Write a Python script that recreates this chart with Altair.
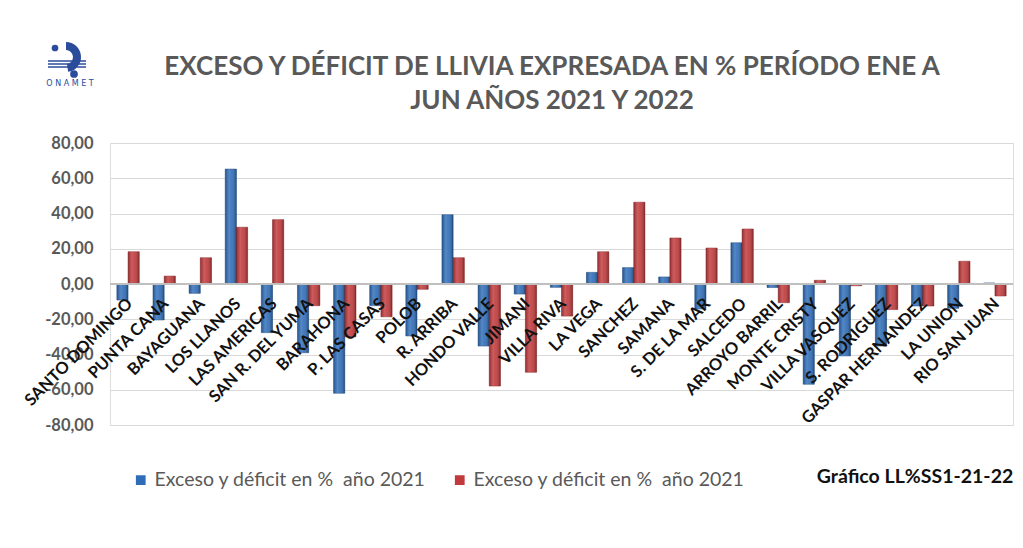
import altair as alt
import pandas as pd

estaciones = ["SANTO DOMINGO", "PUNTA CANA", "BAYAGUANA", "LOS LLANOS", "LAS AMERICAS",
              "SAN R. DEL YUMA", "BARAHONA", "P. LAS CASAS", "POLOB", "R. ARRIBA",
              "HONDO VALLE", "JIMANI", "VILLA RIVA", "LA VEGA", "SANCHEZ", "SAMANA",
              "S. DE LA MAR", "SALCEDO", "ARROYO BARRIL", "MONTE CRISTY", "VILLA VASQUEZ",
              "S. RODRIGUEZ", "GASPAR HERNANDEZ", "LA UNION", "RIO SAN JUAN"]
anio_2021 = [-9.1, -20.4, -5.3, 65.2, -27.6, -39.0, -62.0, -12.3, -29.5, 39.3,
             -35.2, -5.7, -1.9, 6.6, 9.3, 4.0, -14.2, 23.4, -2.0, -56.9,
             -40.8, -35.2, -12.5, -13.8, 0.6]
anio_2022 = [18.3, 4.5, 14.9, 32.2, 36.5, -12.3, -30.0, -18.6, -3.0, 14.9,
             -57.9, -50.1, -18.2, 18.3, 46.4, 26.1, 20.4, 31.2, -10.6, 2.1,
             -1.0, -14.5, -12.5, 12.9, -6.8]
series = ["s2021", "s2022"]
legend_label = "Exceso y déficit en %\u00a0 año 2021"
y_ticks = [-80, -60, -40, -20, 0, 20, 40, 60, 80]
titulo_1 = "EXCESO Y DÉFICIT DE LLIVIA EXPRESADA EN % PERÍODO ENE A"
titulo_2 = "JUN AÑOS 2021 Y 2022"
nota = "Gráfico LL%SS1-21-22"

rows = []
for e, a, b in zip(estaciones, anio_2021, anio_2022):
    rows.append({"estacion": e, "serie": series[0], "valor": a})
    rows.append({"estacion": e, "serie": series[1], "valor": b})
df = pd.DataFrame(rows)
df_lab = pd.DataFrame({"estacion": estaciones, "valor": [0] * len(estaciones)})
one = pd.DataFrame({"k": [1]})

BLUE = "#2F6DB8"
RED = "#C0393B"
FONT = "Lato"
GRAY_TXT = "#595959"
LOGO = "#2B4C9B"

xenc = alt.X("estacion:N", sort=estaciones, axis=None,
             scale=alt.Scale(paddingInner=0.38, paddingOuter=0.19))
xoff = alt.XOffset("serie:N", sort=series, scale=alt.Scale(paddingInner=0, paddingOuter=0))
yscale = alt.Scale(domain=[-80, 80], nice=False, zero=False)
yaxis = alt.Axis(values=y_ticks, ticks=False, domain=False, grid=True,
                 gridColor="#D9D9D9", gridWidth=1, labelOverlap=False,
                 labelFont=FONT, labelFontSize=16.5, labelFontWeight="bold",
                 labelColor=GRAY_TXT, labelPadding=17,
                 labelExpr="replace(replace(format(datum.value, '.2f'), '.', ','), '\u2212', '-')")
yenc = alt.Y("valor:Q", title=None, scale=yscale, axis=yaxis)

bars = alt.Chart(df).mark_bar(strokeWidth=0.5).encode(
    x=xenc, xOffset=xoff, y=yenc,
    color=alt.Color("serie:N", sort=series,
                    scale=alt.Scale(domain=series, range=[BLUE, RED]),
                    legend=alt.Legend(orient="none", legendX=21, legendY=327,
                                      direction="horizontal", title=None,
                                      symbolType="square", symbolSize=95,
                                      symbolStrokeWidth=0,
                                      labelFont=FONT, labelFontSize=19.5,
                                      labelColor=GRAY_TXT, labelLimit=0,
                                      columnPadding=24, labelOffset=4,
                                      labelExpr="'" + legend_label + "'")),
    stroke=alt.Color("serie:N", sort=series,
                     scale=alt.Scale(domain=series, range=["#1E4A80", "#8A2224"]),
                     legend=None),
)

shade = alt.Chart(df).mark_bar(
    fill=alt.LinearGradient(
        gradient="linear", x1=0, x2=1, y1=0, y2=0,
        stops=[alt.GradientStop(offset=0, color="rgba(0,0,0,0.22)"),
               alt.GradientStop(offset=0.35, color="rgba(255,255,255,0.18)"),
               alt.GradientStop(offset=0.55, color="rgba(255,255,255,0.10)"),
               alt.GradientStop(offset=1, color="rgba(0,0,0,0.30)")])
).encode(x=xenc, xOffset=xoff, y=yenc)

zero = alt.Chart(df_lab).mark_rule(color="#BFBFBF", strokeWidth=1.2).encode(y=yenc)

labels = alt.Chart(df_lab).mark_text(
    angle=315, align="right", baseline="top", font=FONT, fontSize=16.5,
    fontWeight="bold", color="#111111", dx=-11, dy=5.5
).encode(x=alt.X("estacion:N", sort=estaciones), y=yenc, text="estacion:N")


def texto(t, px, py, size, color, weight="bold", font=FONT):
    return alt.Chart(pd.DataFrame({"t": [t]})).mark_text(
        font=font, fontSize=size, fontWeight=weight, color=color, align="center",
        baseline="middle"
    ).encode(x=alt.value(px), y=alt.value(py), text="t:N")


title_1 = texto(titulo_1, 442, -76, 26, GRAY_TXT)
title_2 = texto(titulo_2, 442, -42, 26, GRAY_TXT)
nota_txt = texto(nota, 805, 334, 19.5, "#111111")

# page frame (top and left edges) and logo decoration
frame_top = alt.Chart(one).mark_rule(color="#D9D9D9", strokeWidth=1.5).encode(
    x=alt.value(-107), x2=alt.value(910), y=alt.value(-139))
frame_left = alt.Chart(one).mark_rule(color="#D9D9D9", strokeWidth=1.5).encode(
    x=alt.value(-107), y=alt.value(-139), y2=alt.value(404))

logo_txt = texto("O N A M E T", -40, -59, 8, LOGO, weight="normal", font="DejaVu Sans")
logo_lines = [
    alt.Chart(one).mark_rule(color=LOGO, strokeWidth=1.6).encode(
        x=alt.value(-62), x2=alt.value(-24), y=alt.value(v))
    for v in (-82, -79, -76)
]
logo_arc = alt.Chart(one).mark_arc(
    color=LOGO, radius=15, radius2=7, theta=0, theta2=3.0
).encode(x=alt.value(-44), y=alt.value(-86))
logo_dot1 = alt.Chart(one).mark_point(filled=True, color=LOGO, opacity=1, size=45).encode(
    x=alt.value(-55), y=alt.value(-95))
logo_dot2 = alt.Chart(one).mark_point(filled=True, color=LOGO, opacity=1, size=60).encode(
    x=alt.value(-36), y=alt.value(-69))

chart = alt.layer(
    frame_top, frame_left, bars, shade, zero, labels, title_1, title_2, nota_txt,
    logo_txt, *logo_lines, logo_arc, logo_dot1, logo_dot2
).properties(
    width=903, height=282,
    autosize=alt.AutoSizeParams(type="none"),
    padding={"left": 102, "top": 135, "right": 2, "bottom": 110},
).configure_view(stroke="#BFBFBF", strokeWidth=1.3).configure(background="white")

chart.save("out.html", embed_options={"renderer": "svg", "actions": False})
